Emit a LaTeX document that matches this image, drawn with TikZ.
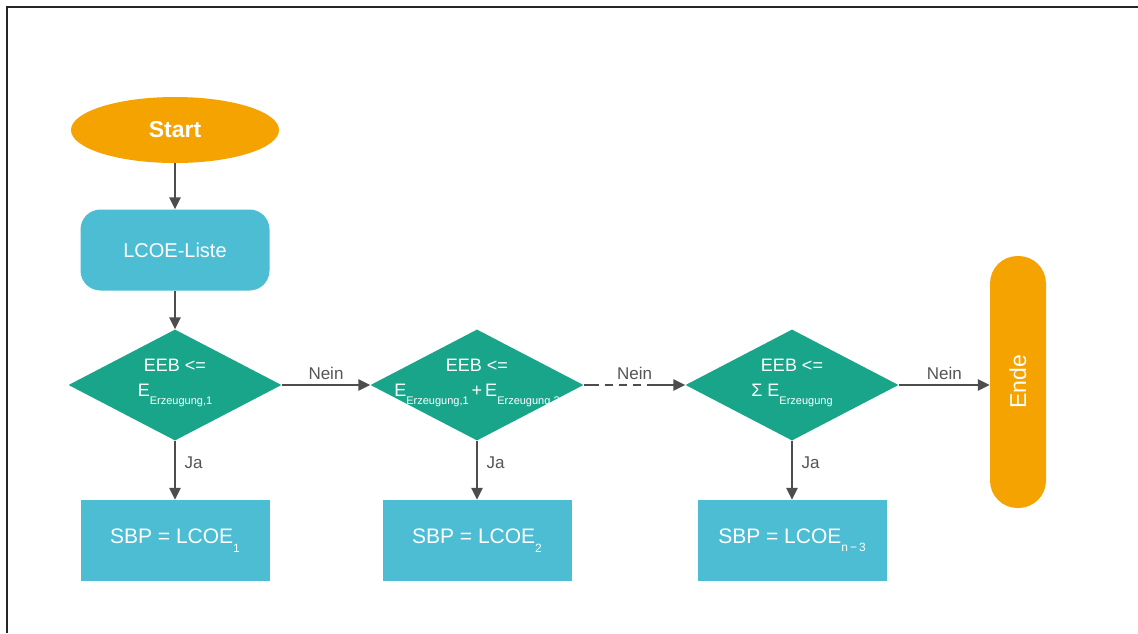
\documentclass[tikz,border=0pt]{standalone}
\usepackage{fontspec}
\setmainfont{Liberation Sans}
\usetikzlibrary{shapes.geometric,arrows.meta}
\definecolor{orng}{HTML}{F4A300}
\definecolor{cyanbox}{HTML}{4CBDD3}
\definecolor{tealdia}{HTML}{19A58A}
\definecolor{arrcol}{HTML}{4D4D4D}
\definecolor{lblcol}{HTML}{555555}
\newcommand{\subx}[1]{\raisebox{-0.45em}{\fontsize{11}{11}\selectfont #1}}
\newcommand{\subb}[1]{\raisebox{-0.4em}{\fontsize{12}{12}\selectfont #1}}
\begin{document}
\begin{tikzpicture}[x=1pt,y=-1pt,
  every node/.style={font=\fontsize{21}{24}\selectfont},
  term/.style={fill=orng, draw=none, text=white},
  procbox/.style={rectangle, fill=cyanbox, draw=none, text=white, minimum width=189pt, minimum height=81pt, inner sep=0pt},
  dia/.style={diamond, fill=tealdia, draw=none, minimum width=213pt, minimum height=111pt, inner sep=0pt},
  dtext/.style={text=white, align=center, font=\fontsize{18}{25}\selectfont, yshift=2pt},
  conn/.style={draw=arrcol, line width=2.7pt, -{Triangle[length=12pt,width=11pt]}},
  lbl/.style={text=lblcol, font=\fontsize{17}{19}\selectfont}
]
\useasboundingbox (0,0) rectangle (1138,633);
\fill[white] (0,0) rectangle (1138,633);
\draw[line width=1.6pt, black!85] (7,633) -- (7,7) -- (1138,7);

% nodes
\node[term, ellipse, minimum width=208pt, minimum height=66pt, inner sep=0pt,
      font=\fontsize{23}{25}\selectfont\bfseries] (start) at (175,130) {Start};
\node[procbox, rounded corners=20pt, font=\fontsize{20}{22}\selectfont] (liste) at (175,250) {LCOE-Liste};

\node[dia, label={[dtext]center:{EEB <=\\E\subx{Erzeugung,1}}}] (d1) at (175,385) {};
\node[dia, label={[dtext]center:{EEB <=\\E\subx{Erzeugung,1}\,+\,E\subx{Erzeugung,2}}}] (d2) at (477,385) {};
\node[dia, label={[dtext]center:{EEB <=\\Σ E\subx{Erzeugung}}}] (d3) at (792,385) {};

\node[term, rectangle, rounded corners=27.5pt, minimum width=56pt, minimum height=252pt, inner sep=0pt,
      label={[rotate=90, text=white, font=\fontsize{23}{25}\selectfont]center:Ende}] (ende) at (1018,382) {};

\node[procbox] (b1) at (175,540.5) {SBP = LCOE\subb{1}};
\node[procbox] (b2) at (477,540.5) {SBP = LCOE\subb{2}};
\node[procbox] (b3) at (792,540.5) {SBP = LCOE\subb{n\,−\,3}};

% connectors
\draw[conn] (start) -- (liste);
\draw[conn] (liste) -- (d1);
\draw[conn] (d1.east) -- node[lbl, above=1pt] {Nein} (d2.west);
\draw[conn, dash pattern=on 15pt off 6pt on 8pt off 6pt on 8pt off 6pt on 8pt off 6pt on 80pt]
  (d2.east) -- node[lbl, above=1pt] {Nein} (d3.west);
\draw[conn] (d3.east) -- node[lbl, above=1pt] {Nein} (ende.west |- d3.east);
\draw[conn] (d1.south) -- node[lbl, right=5pt, pos=0.38] {Ja} (b1.north);
\draw[conn] (d2.south) -- node[lbl, right=5pt, pos=0.38] {Ja} (b2.north);
\draw[conn] (d3.south) -- node[lbl, right=5pt, pos=0.38] {Ja} (b3.north);
\end{tikzpicture}
\end{document}
